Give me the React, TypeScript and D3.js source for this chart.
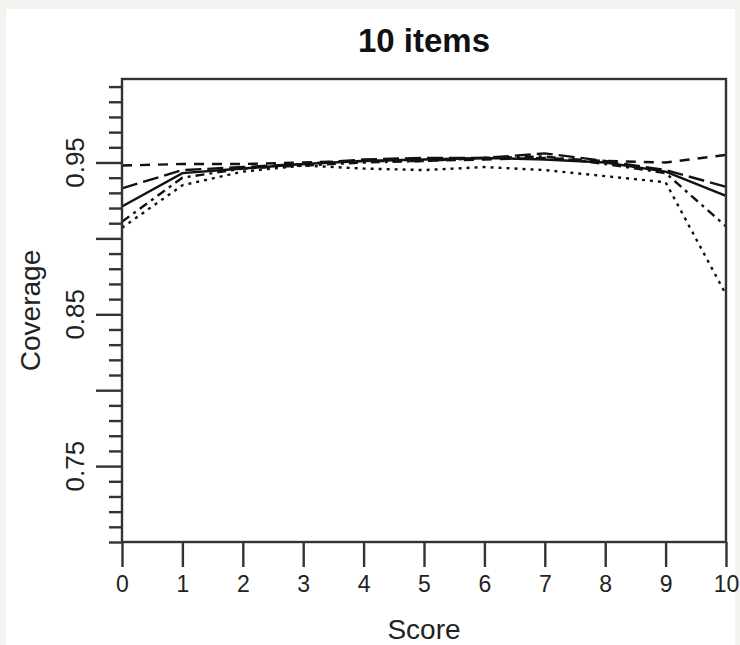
import React, { useRef, useEffect } from 'react';
import * as d3 from 'd3';

const scores = [0, 1, 2, 3, 4, 5, 6, 7, 8, 9, 10];

const seriesA = [0.948, 0.949, 0.949, 0.950, 0.951, 0.951, 0.952, 0.953, 0.951, 0.950, 0.955];
const seriesB = [0.933, 0.945, 0.947, 0.949, 0.952, 0.953, 0.953, 0.956, 0.951, 0.945, 0.934];
const seriesC = [0.921, 0.943, 0.946, 0.949, 0.951, 0.952, 0.953, 0.952, 0.950, 0.944, 0.928];
const seriesD = [0.911, 0.940, 0.946, 0.948, 0.950, 0.951, 0.953, 0.954, 0.949, 0.943, 0.908];
const seriesE = [0.907, 0.935, 0.944, 0.948, 0.946, 0.945, 0.947, 0.945, 0.941, 0.937, 0.863];

const yMajor = [0.75, 0.8, 0.85, 0.9, 0.95];
const yLabels = [0.75, 0.85, 0.95];

const series = [
  { name: 'A', values: seriesA, dash: '10,8' },
  { name: 'B', values: seriesB, dash: '16,6' },
  { name: 'C', values: seriesC, dash: null },
  { name: 'D', values: seriesD, dash: '9,5,3,5' },
  { name: 'E', values: seriesE, dash: '3,5' },
];

const App = () => {
  const svgRef = useRef(null);

  useEffect(() => {
    const svg = d3.select(svgRef.current);
    svg.selectAll('*').remove();

    const W = 740, H = 645;
    const margin = { top: 79, right: 14, bottom: 103, left: 122 };
    const width = W - margin.left - margin.right;
    const height = H - margin.top - margin.bottom;
    const font = 'Liberation Sans, Arial, sans-serif';

    svg.append('rect').attr('width', W).attr('height', H).attr('fill', '#f3f3ef');
    svg.append('rect').attr('x', 6).attr('y', 9).attr('width', 729).attr('height', 636).attr('fill', '#fff');

    const x = d3.scaleLinear().domain([0, 10]).range([margin.left, margin.left + width]);
    const y = d3.scaleLinear().domain([0.70, 1.005]).range([margin.top + height, margin.top]);

    const line = d3.line<number>()
      .x((d, i) => x(scores[i]))
      .y(d => y(d));

    series.forEach(s => {
      svg.append('path')
        .datum(s.values)
        .attr('fill', 'none')
        .attr('stroke', '#111')
        .attr('stroke-width', 2.4)
        .attr('stroke-dasharray', s.dash)
        .attr('d', line);
    });

    // box
    svg.append('rect')
      .attr('x', margin.left)
      .attr('y', margin.top)
      .attr('width', width)
      .attr('height', height)
      .attr('fill', 'none')
      .attr('stroke', '#333')
      .attr('stroke-width', 2.4);

    // x axis
    const xAxis = svg.append('g')
      .attr('transform', `translate(0,${margin.top + height})`)
      .call(d3.axisBottom(x).tickValues(scores).tickSize(25).tickPadding(9).tickFormat(d3.format('d')));
    xAxis.select('.domain').remove();
    xAxis.selectAll('line').attr('stroke', '#333').attr('stroke-width', 2.4);
    xAxis.selectAll('text').attr('font-family', font).attr('font-size', 23).attr('fill', '#222');

    // y axis minor ticks
    const minor = d3.range(70, 101).map(v => v / 100).filter(v => !yMajor.some(m => Math.abs(m - v) < 1e-6));
    const yMinor = svg.append('g')
      .attr('transform', `translate(${margin.left},0)`)
      .call(d3.axisLeft(y).tickValues(minor).tickSize(13).tickFormat(() => ''));
    yMinor.select('.domain').remove();
    yMinor.selectAll('line').attr('stroke', '#333').attr('stroke-width', 2.4);

    const yAx = svg.append('g')
      .attr('transform', `translate(${margin.left},0)`)
      .call(d3.axisLeft(y).tickValues(yMajor).tickSize(26).tickFormat(() => ''));
    yAx.select('.domain').remove();
    yAx.selectAll('line').attr('stroke', '#333').attr('stroke-width', 2.4);

    yLabels.forEach(v => {
      svg.append('text')
        .attr('transform', `translate(84,${y(v)}) rotate(-90)`)
        .attr('text-anchor', 'middle')
        .attr('font-family', font)
        .attr('font-size', 26)
        .attr('fill', '#222')
        .text(d3.format('.2f')(v));
    });

    svg.append('text')
      .attr('x', margin.left + width / 2)
      .attr('y', 639)
      .attr('text-anchor', 'middle')
      .attr('font-family', font)
      .attr('font-size', 28)
      .attr('fill', '#222')
      .text('Score');

    svg.append('text')
      .attr('transform', `translate(40,${margin.top + height / 2}) rotate(-90)`)
      .attr('text-anchor', 'middle')
      .attr('font-family', font)
      .attr('font-size', 28)
      .attr('fill', '#222')
      .text('Coverage');

    svg.append('text')
      .attr('x', margin.left + width / 2)
      .attr('y', 52)
      .attr('text-anchor', 'middle')
      .attr('font-family', font)
      .attr('font-size', 33)
      .attr('font-weight', 'bold')
      .attr('fill', '#111')
      .text('10 items');
  }, []);

  return <svg ref={svgRef} width="740" height="645" style={{ position: 'absolute', left: 0, top: 0 }}></svg>;
};

export default App;
